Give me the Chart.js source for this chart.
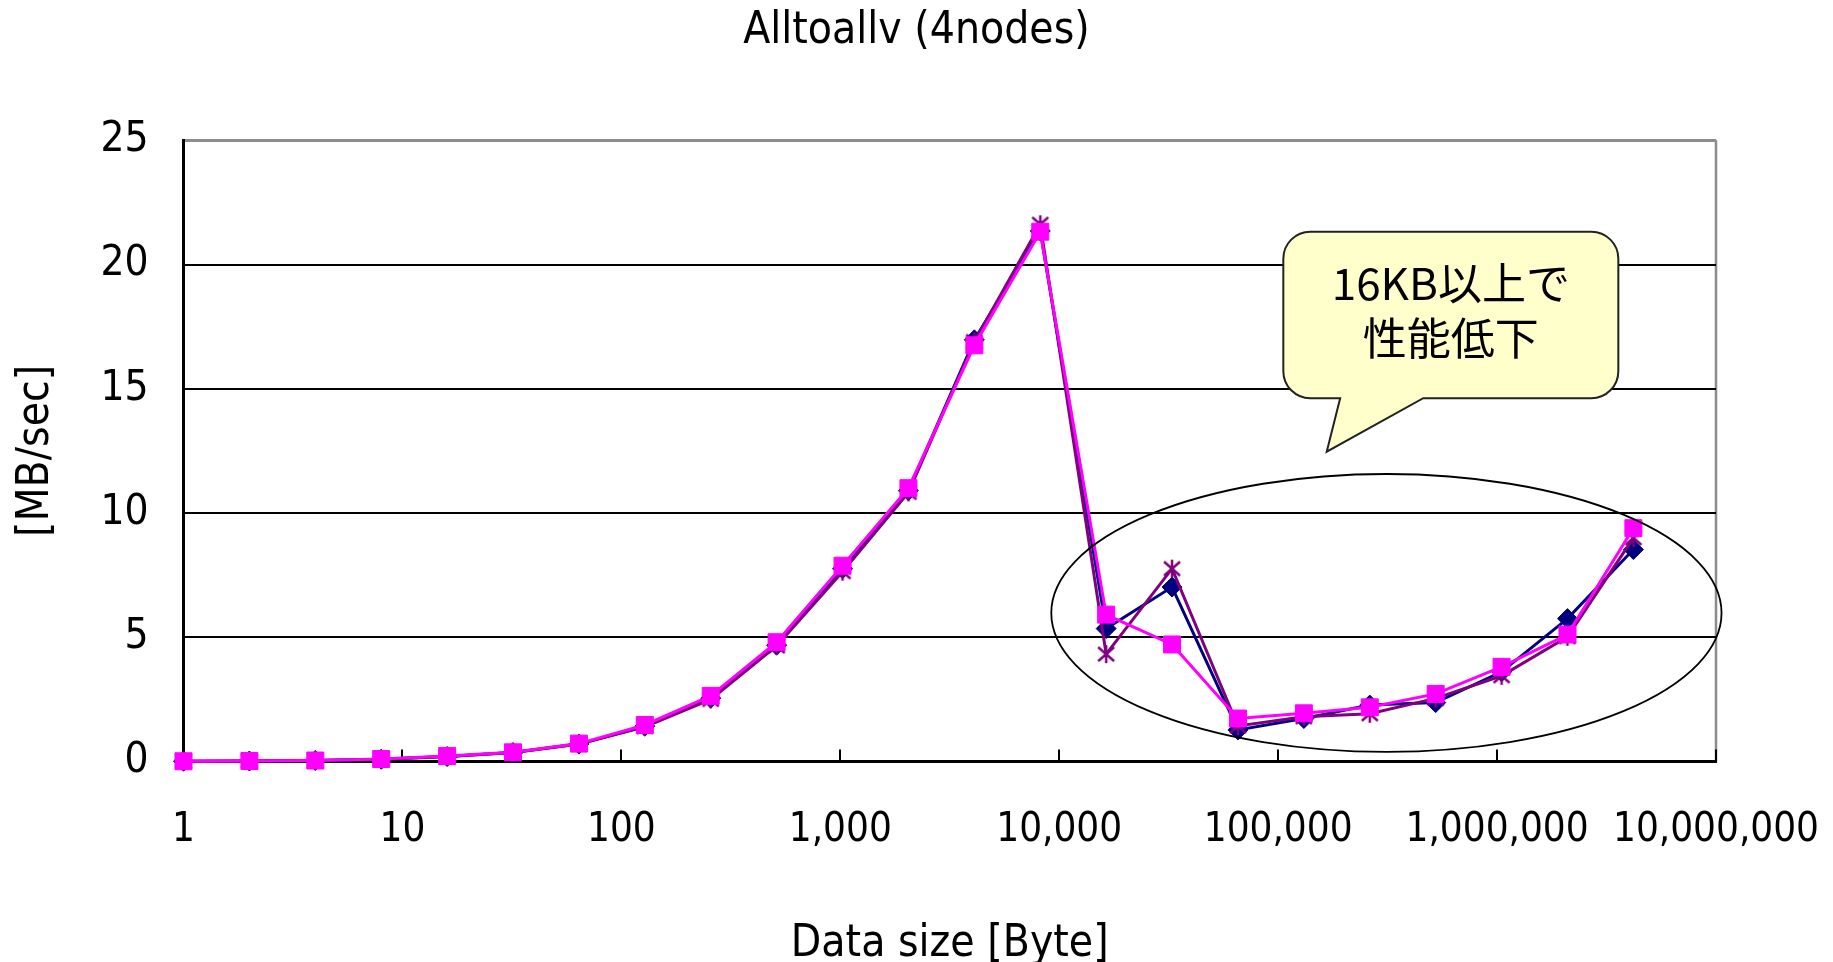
<!DOCTYPE html>
<html>
<head>
<meta charset="utf-8">
<script src="https://cdn.jsdelivr.net/npm/chart.js@4/dist/chart.umd.min.js"></script>
<style>
  html, body { margin: 0; padding: 0; background: #fff; overflow: hidden; }
  #wrap { width: 1833px; height: 962px; position: relative; }
</style>
</head>
<body>
<div id="wrap"><canvas id="c" width="1833" height="962"></canvas></div>
<script>
// Message sizes in bytes
const dataSizes = [1, 2, 4, 8, 16, 32, 64, 128, 256, 512, 1024, 2048, 4096, 8192,
  16384, 32768, 65536, 131072, 262144, 524288, 1048576, 2097152, 4194304];

// Bandwidth [MB/sec] for the three runs
const seriesNavy = [0.01, 0.02, 0.04, 0.09, 0.2, 0.36, 0.7, 1.42, 2.55, 4.68, 7.76, 10.9,
  16.97, 21.35, 5.35, 7.02, 1.27, 1.73, 2.27, 2.37, 3.61, 5.75, 8.53];
const seriesPurple = [0.01, 0.02, 0.04, 0.09, 0.2, 0.36, 0.7, 1.4, 2.5, 4.65, 7.64, 10.83,
  16.9, 21.62, 4.32, 7.76, 1.43, 1.8, 1.92, 2.54, 3.45, 5.02, 9.0];
const seriesMagenta = [0.01, 0.02, 0.04, 0.1, 0.22, 0.37, 0.72, 1.47, 2.64, 4.8, 7.88, 11.0,
  16.75, 21.32, 5.91, 4.71, 1.73, 1.94, 2.18, 2.72, 3.81, 5.11, 9.39];

// Axis ticks and labels
const xTickValues = [1, 10, 100, 1000, 10000, 100000, 1000000, 10000000];
const xTickLabels = ['1', '10', '100', '1,000', '10,000', '100,000', '1,000,000', '10,000,000'];
const yTickStep = 5;
const yMin = 0;
const yMax = 25;

const chartTitle = 'Alltoallv (4nodes)';
const xTitle = 'Data size [Byte]';
const yTitle = '[MB/sec]';
const calloutLines = ['16KB以上で', '性能低下'];

// Annotation geometry, in axis units
const ringArea = { xMin: 9200, xMax: 10600000, yMin: 0.39, yMax: 11.57 };
const calloutBox = { xMin: 105600, xMax: 3580000, yMin: 14.62, yMax: 21.32,
  baseLeft: 192000, baseRight: 460000, tipX: 166700, tipY: 12.47,
  line1Y: 19.24, line2Y: 17.03 };

const NARROW = "'Liberation Sans Narrow', 'DejaVu Sans Condensed', 'Arial Narrow', sans-serif";

// Asterisk marker (X with a vertical stroke)
function makeAsterisk(color) {
  const s = 22;
  const cv = document.createElement('canvas');
  cv.width = s; cv.height = s;
  const g = cv.getContext('2d');
  g.strokeStyle = color;
  g.lineWidth = 2.5;
  g.lineCap = 'butt';
  g.beginPath();
  g.moveTo(3, 4); g.lineTo(19, 18);
  g.moveTo(19, 4); g.lineTo(3, 18);
  g.moveTo(11, 2); g.lineTo(11, 20);
  g.stroke();
  return cv;
}

const framePlugin = {
  id: 'frameRight',
  beforeDraw(chart) {
    const { ctx, chartArea: a } = chart;
    ctx.save();
    ctx.strokeStyle = '#8c8c8c';
    ctx.lineWidth = 2.5;
    ctx.beginPath();
    ctx.moveTo(a.right, a.top);
    ctx.lineTo(a.right, a.bottom);
    ctx.stroke();
    ctx.restore();
  }
};

const notePlugin = {
  id: 'notes',
  afterDatasetsDraw(chart) {
    const { ctx } = chart;
    const xs = chart.scales.x, ys = chart.scales.y;
    const px = v => xs.getPixelForValue(v);
    const py = v => ys.getPixelForValue(v);

    // ellipse around the region of reduced throughput
    const l = px(ringArea.xMin), r = px(ringArea.xMax);
    const t = py(ringArea.yMax), b = py(ringArea.yMin);
    ctx.save();
    ctx.strokeStyle = '#000';
    ctx.lineWidth = 1.8;
    ctx.beginPath();
    ctx.ellipse((l + r) / 2, (t + b) / 2, (r - l) / 2, (b - t) / 2, 0, 0, Math.PI * 2);
    ctx.stroke();

    // speech bubble
    const L = px(calloutBox.xMin), R = px(calloutBox.xMax);
    const T = py(calloutBox.yMax), B = py(calloutBox.yMin);
    const bl = px(calloutBox.baseLeft), br = px(calloutBox.baseRight);
    const tx = px(calloutBox.tipX), ty = py(calloutBox.tipY);
    const rad = 27;
    ctx.beginPath();
    ctx.moveTo(L + rad, T);
    ctx.lineTo(R - rad, T);
    ctx.arcTo(R, T, R, T + rad, rad);
    ctx.lineTo(R, B - rad);
    ctx.arcTo(R, B, R - rad, B, rad);
    ctx.lineTo(br, B);
    ctx.lineTo(tx, ty);
    ctx.lineTo(bl, B);
    ctx.lineTo(L + rad, B);
    ctx.arcTo(L, B, L, B - rad, rad);
    ctx.lineTo(L, T + rad);
    ctx.arcTo(L, T, L + rad, T, rad);
    ctx.closePath();
    ctx.fillStyle = '#FFFFCC';
    ctx.fill();
    ctx.strokeStyle = '#222';
    ctx.lineWidth = 2;
    ctx.stroke();

    ctx.fillStyle = '#000';
    ctx.font = "44px 'Noto Sans CJK JP', sans-serif";
    ctx.textAlign = 'center';
    ctx.textBaseline = 'middle';
    const cx = (L + R) / 2;
    ctx.fillText(calloutLines[0], cx, py(calloutBox.line1Y));
    ctx.fillText(calloutLines[1], cx, py(calloutBox.line2Y));
    ctx.restore();
  }
};

const toPoints = arr => arr.map((v, i) => ({ x: dataSizes[i], y: v }));

new Chart(document.getElementById('c'), {
  type: 'line',
  data: {
    datasets: [
      {
        label: 'run 1',
        data: toPoints(seriesNavy),
        borderColor: '#000080',
        backgroundColor: '#000080',
        borderWidth: 3,
        pointStyle: 'rectRot',
        pointRadius: 10,
        pointBorderWidth: 1,
        order: 2,
        clip: false
      },
      {
        label: 'run 2',
        data: toPoints(seriesPurple),
        borderColor: '#800080',
        backgroundColor: '#800080',
        borderWidth: 3,
        pointStyle: makeAsterisk('#800080'),
        pointRadius: 10,
        order: 1,
        clip: false
      },
      {
        label: 'run 3',
        data: toPoints(seriesMagenta),
        borderColor: '#FF00FF',
        backgroundColor: '#FF00FF',
        borderWidth: 3,
        pointStyle: 'rect',
        pointRadius: 12,
        pointBorderWidth: 1,
        order: 0,
        clip: false
      }
    ]
  },
  options: {
    responsive: false,
    devicePixelRatio: 1,
    animation: false,
    layout: { padding: 0 },
    plugins: {
      legend: { display: false },
      tooltip: { enabled: false },
      title: {
        display: true,
        text: chartTitle,
        color: '#000',
        font: { family: NARROW, size: 44, weight: 'normal', lineHeight: 1 },
        padding: { top: 10, bottom: 86.3 }
      }
    },
    scales: {
      x: {
        type: 'logarithmic',
        position: 'bottom',
        min: xTickValues[0],
        max: xTickValues[xTickValues.length - 1],
        afterBuildTicks: s => { s.ticks = xTickValues.map(v => ({ value: v, major: true })); },
        ticks: {
          autoSkip: false,
          maxRotation: 0,
          color: '#000',
          padding: 12,
          font: { family: NARROW, size: 40, lineHeight: 3.45 },
          callback: (v, i) => xTickLabels[i]
        },
        grid: {
          display: true,
          drawOnChartArea: false,
          drawTicks: true,
          tickLength: -12,
          color: '#000',
          lineWidth: 2
        },
        border: { display: true, color: '#000', width: 3 },
        title: {
          display: true,
          text: xTitle,
          color: '#000',
          font: { family: NARROW, size: 44, lineHeight: 0.76 },
          padding: { top: 0, bottom: 1 }
        },
        afterFit: s => { s.height = 200.5; }
      },
      y: {
        type: 'linear',
        position: 'left',
        min: yMin,
        max: yMax,
        ticks: {
          stepSize: yTickStep,
          color: '#000',
          padding: 35,
          font: { family: NARROW, size: 42 }
        },
        grid: {
          drawTicks: false,
          color: c => (c.tick && c.tick.value === yMax ? '#8c8c8c' : '#000'),
          lineWidth: c => (c.tick && c.tick.value === yMax ? 3 : 2)
        },
        border: { display: true, color: '#000', width: 3 },
        title: {
          display: true,
          text: yTitle,
          color: '#000',
          font: { family: NARROW, size: 44, lineHeight: 1 },
          padding: { top: 15, bottom: 0 }
        },
        afterFit: s => { s.width = 183.5; }
      },
      yRight: {
        type: 'linear',
        position: 'right',
        display: true,
        grid: { display: false, drawTicks: false },
        ticks: { display: false },
        border: { display: false },
        afterFit: s => { s.width = 117; }
      }
    }
  },
  plugins: [framePlugin, notePlugin]
});
</script>
</body>
</html>
